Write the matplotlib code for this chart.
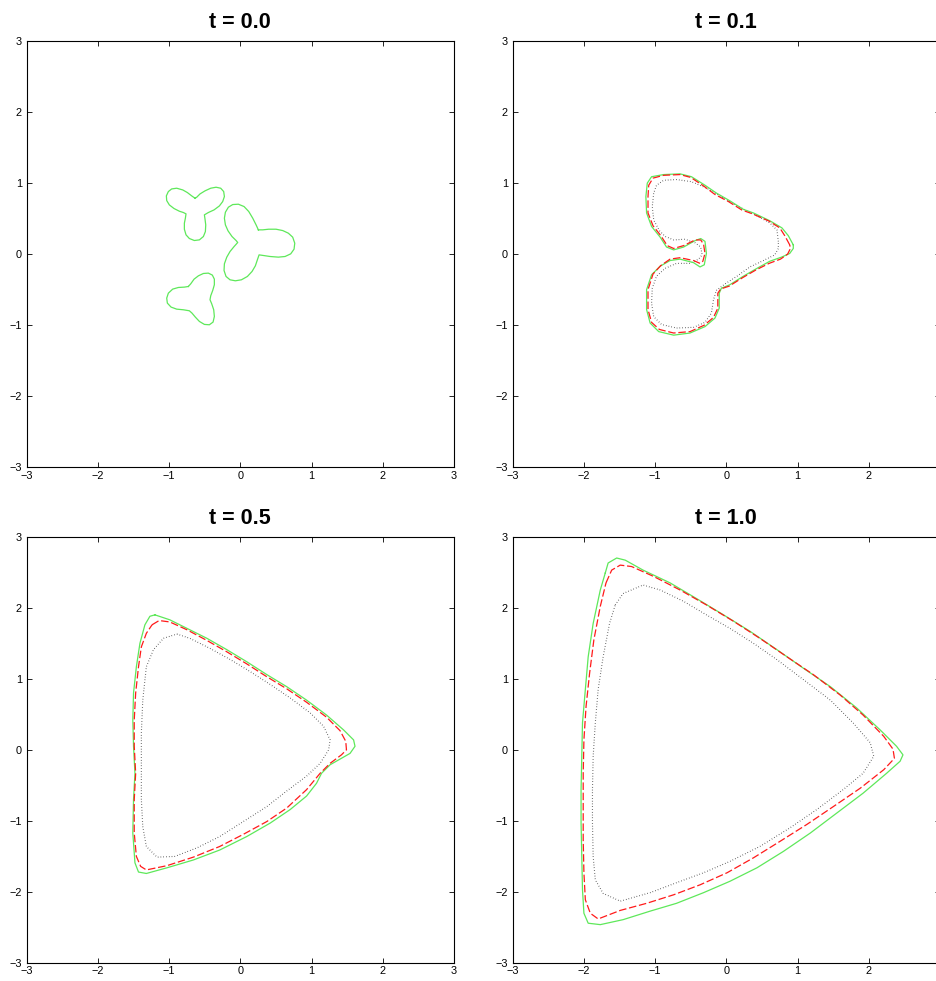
import numpy as np
import matplotlib
matplotlib.use("Agg")
import matplotlib.pyplot as plt

plt.rcParams["font.family"] = ["Liberation Sans", "DejaVu Sans"]

titles = ["t = 0.0", "t = 0.1", "t = 0.5", "t = 1.0"]
ticks = [-3, -2, -1, 0, 1, 2, 3]
tick_labels = ["\u22123", "\u22122", "\u22121", "0", "1", "2", "3"]

# ---- t = 0.0 : initial zero level set (three separate blobs) ----
t00_blob_a = [(-0.636, 0.787), (-0.683, 0.820), (-0.744, 0.867), (-0.809, 0.904), (-0.894, 0.928),
              (-0.964, 0.918), (-1.011, 0.881), (-1.039, 0.820), (-1.034, 0.754), (-0.997, 0.693),
              (-0.931, 0.642), (-0.856, 0.604), (-0.800, 0.586), (-0.763, 0.567), (-0.772, 0.506),
              (-0.786, 0.436), (-0.786, 0.351), (-0.763, 0.272), (-0.716, 0.220), (-0.646, 0.192),
              (-0.575, 0.201), (-0.519, 0.248), (-0.491, 0.318), (-0.486, 0.412), (-0.496, 0.492),
              (-0.505, 0.553), (-0.449, 0.586), (-0.369, 0.623), (-0.294, 0.679), (-0.248, 0.740),
              (-0.224, 0.811), (-0.234, 0.881), (-0.276, 0.928), (-0.341, 0.942), (-0.416, 0.928),
              (-0.496, 0.891), (-0.566, 0.848), (-0.613, 0.801)]
t00_blob_b = [(0.253, 0.342), (0.221, 0.412), (0.174, 0.506), (0.118, 0.600), (0.052, 0.670),
              (-0.028, 0.703), (-0.107, 0.698), (-0.168, 0.661), (-0.210, 0.590), (-0.224, 0.506),
              (-0.210, 0.412), (-0.173, 0.328), (-0.117, 0.248), (-0.060, 0.192), (-0.037, 0.164),
              (-0.088, 0.107), (-0.145, 0.037), (-0.191, -0.043), (-0.224, -0.136), (-0.229, -0.230),
              (-0.201, -0.314), (-0.145, -0.361), (-0.070, -0.375), (0.015, -0.361), (0.099, -0.314),
              (0.164, -0.244), (0.211, -0.164), (0.239, -0.080), (0.263, -0.010), (0.324, -0.019),
              (0.417, -0.033), (0.534, -0.042), (0.628, -0.033), (0.707, 0.004), (0.754, 0.070),
              (0.764, 0.154), (0.735, 0.239), (0.674, 0.295), (0.595, 0.332), (0.501, 0.351),
              (0.398, 0.351), (0.314, 0.342)]
t00_blob_c = [(-0.730, -0.455), (-0.697, -0.418), (-0.650, -0.352), (-0.589, -0.305), (-0.519, -0.272),
              (-0.449, -0.267), (-0.393, -0.295), (-0.365, -0.352), (-0.365, -0.431), (-0.388, -0.511),
              (-0.416, -0.586), (-0.426, -0.642), (-0.402, -0.699), (-0.374, -0.783), (-0.365, -0.877),
              (-0.383, -0.956), (-0.435, -0.994), (-0.505, -0.989), (-0.575, -0.947), (-0.632, -0.886),
              (-0.679, -0.830), (-0.716, -0.797), (-0.800, -0.783), (-0.894, -0.774), (-0.973, -0.745),
              (-1.025, -0.689), (-1.034, -0.619), (-1.011, -0.549), (-0.950, -0.492), (-0.870, -0.469),
              (-0.786, -0.464)]

# ---- t = 0.1 ----
t01_green = [(0.94, 0.13), (0.87, 0.26), (0.78, 0.37), (0.61, 0.47), (0.38, 0.58), (0.24, 0.63),
             (0.05, 0.75), (-0.14, 0.86), (-0.30, 0.97), (-0.49, 1.09), (-0.65, 1.13),
             (-0.88, 1.12), (-1.05, 1.09), (-1.11, 1.00), (-1.13, 0.81), (-1.12, 0.58),
             (-1.05, 0.39), (-0.93, 0.24), (-0.84, 0.10), (-0.74, 0.06), (-0.60, 0.10),
             (-0.44, 0.19), (-0.36, 0.22), (-0.30, 0.18), (-0.28, 0.01), (-0.31, -0.15),
             (-0.37, -0.18), (-0.46, -0.12), (-0.65, -0.07), (-0.79, -0.09), (-0.93, -0.17),
             (-1.05, -0.29), (-1.12, -0.50), (-1.12, -0.78), (-1.07, -0.97), (-0.95, -1.09),
             (-0.74, -1.14), (-0.51, -1.11), (-0.30, -1.02), (-0.16, -0.90), (-0.10, -0.76),
             (-0.10, -0.55), (-0.07, -0.48), (0.05, -0.43), (0.24, -0.31), (0.43, -0.20),
             (0.61, -0.10), (0.78, -0.04), (0.89, 0.01), (0.94, 0.08)]
t01_red = [(0.89, 0.13), (0.82, 0.26), (0.75, 0.37), (0.59, 0.47), (0.36, 0.57), (0.22, 0.62),
           (0.03, 0.74), (-0.16, 0.84), (-0.32, 0.96), (-0.50, 1.08), (-0.65, 1.12),
           (-0.88, 1.11), (-1.03, 1.07), (-1.09, 0.97), (-1.10, 0.81), (-1.10, 0.58),
           (-1.03, 0.40), (-0.92, 0.26), (-0.83, 0.12), (-0.74, 0.08), (-0.60, 0.12),
           (-0.44, 0.20), (-0.36, 0.20), (-0.32, 0.14), (-0.30, 0.01), (-0.33, -0.10),
           (-0.37, -0.13), (-0.46, -0.09), (-0.65, -0.05), (-0.79, -0.07), (-0.92, -0.16),
           (-1.03, -0.28), (-1.10, -0.50), (-1.10, -0.78), (-1.05, -0.96), (-0.94, -1.06),
           (-0.74, -1.11), (-0.51, -1.09), (-0.31, -1.00), (-0.18, -0.89), (-0.12, -0.76),
           (-0.12, -0.55), (-0.08, -0.49), (0.04, -0.45), (0.23, -0.33), (0.42, -0.22),
           (0.60, -0.13), (0.76, -0.07), (0.86, 0.00), (0.90, 0.08)]
t01_black = [(0.73, 0.18), (0.71, 0.34), (0.61, 0.44), (0.43, 0.54), (0.19, 0.66), (-0.04, 0.79),
             (-0.28, 0.93), (-0.49, 1.02), (-0.70, 1.05), (-0.88, 1.04), (-0.98, 0.97),
             (-1.02, 0.86), (-1.04, 0.67), (-1.02, 0.48), (-0.94, 0.33), (-0.86, 0.25),
             (-0.74, 0.20), (-0.58, 0.21), (-0.44, 0.16), (-0.36, 0.10), (-0.34, -0.01),
             (-0.39, -0.07), (-0.51, -0.13), (-0.70, -0.13), (-0.86, -0.20), (-0.98, -0.31),
             (-1.04, -0.48), (-1.05, -0.69), (-1.02, -0.88), (-0.91, -0.99), (-0.70, -1.04),
             (-0.46, -1.03), (-0.30, -0.96), (-0.21, -0.83), (-0.18, -0.64), (-0.14, -0.51),
             (-0.02, -0.42), (0.15, -0.31), (0.33, -0.18), (0.52, -0.09), (0.68, -0.01),
             (0.73, 0.08)]

# ---- t = 0.5 ----
t05_green = [(-1.20, 1.90), (-0.99, 1.83), (-0.75, 1.71), (-0.47, 1.57), (-0.19, 1.41),
             (0.09, 1.24), (0.37, 1.06), (0.65, 0.89), (0.93, 0.70), (1.21, 0.49), (1.45, 0.28),
             (1.59, 0.14), (1.61, 0.05), (1.54, -0.05), (1.40, -0.13), (1.26, -0.21),
             (1.14, -0.33), (1.07, -0.47), (0.93, -0.65), (0.70, -0.84), (0.42, -1.03),
             (0.09, -1.22), (-0.29, -1.41), (-0.66, -1.55), (-1.03, -1.66), (-1.32, -1.74),
             (-1.43, -1.72), (-1.48, -1.59), (-1.51, -1.17), (-1.50, -0.70), (-1.48, -0.33),
             (-1.50, 0.05), (-1.51, 0.42), (-1.50, 0.80), (-1.46, 1.17), (-1.41, 1.50),
             (-1.34, 1.76), (-1.27, 1.88)]
t05_red = [(-1.24, 1.76), (-1.14, 1.82), (-0.99, 1.80), (-0.75, 1.69), (-0.47, 1.54),
           (-0.19, 1.38), (0.09, 1.21), (0.37, 1.03), (0.65, 0.86), (0.93, 0.67), (1.21, 0.46),
           (1.40, 0.27), (1.48, 0.12), (1.49, 0.00), (1.42, -0.07), (1.26, -0.19),
           (1.12, -0.33), (0.93, -0.56), (0.65, -0.82), (0.37, -1.01), (0.04, -1.19),
           (-0.29, -1.36), (-0.66, -1.51), (-1.03, -1.63), (-1.32, -1.69), (-1.40, -1.64),
           (-1.46, -1.50), (-1.49, -1.17), (-1.49, -0.70), (-1.47, -0.33), (-1.49, 0.05),
           (-1.49, 0.42), (-1.47, 0.80), (-1.43, 1.17), (-1.39, 1.45), (-1.32, 1.64)]
t05_black = [(-0.89, 1.63), (-0.71, 1.57), (-0.43, 1.43), (-0.14, 1.27), (0.14, 1.10),
             (0.42, 0.92), (0.70, 0.73), (0.98, 0.52), (1.17, 0.33), (1.26, 0.14), (1.24, 0.00),
             (1.12, -0.19), (0.93, -0.37), (0.65, -0.58), (0.37, -0.80), (0.04, -1.01),
             (-0.29, -1.22), (-0.61, -1.38), (-0.92, -1.50), (-1.17, -1.51), (-1.32, -1.36),
             (-1.37, -1.08), (-1.39, -0.70), (-1.39, -0.23), (-1.39, 0.24), (-1.37, 0.70),
             (-1.32, 1.17), (-1.22, 1.41), (-1.08, 1.57)]

# ---- t = 1.0 ----
t10_green = [(-1.70, 2.49), (-1.66, 2.63), (-1.54, 2.70), (-1.42, 2.67), (-1.17, 2.53),
             (-0.79, 2.35), (-0.42, 2.13), (-0.04, 1.90), (0.33, 1.67), (0.71, 1.41),
             (1.08, 1.15), (1.46, 0.89), (1.83, 0.59), (2.16, 0.28), (2.39, 0.05),
             (2.48, -0.07), (2.44, -0.16), (2.25, -0.33), (1.92, -0.61), (1.55, -0.89),
             (1.18, -1.17), (0.80, -1.43), (0.43, -1.66), (0.05, -1.85), (-0.32, -2.01),
             (-0.70, -2.16), (-1.07, -2.27), (-1.45, -2.39), (-1.77, -2.46), (-1.94, -2.44),
             (-2.00, -2.30), (-2.02, -1.97), (-2.03, -1.50), (-2.04, -1.03), (-2.04, -0.56),
             (-2.03, -0.09), (-2.02, 0.38), (-1.98, 0.85), (-1.94, 1.31), (-1.87, 1.78),
             (-1.77, 2.25)]
t10_red = [(-1.69, 2.35), (-1.61, 2.53), (-1.49, 2.60), (-1.33, 2.58), (-1.02, 2.44),
           (-0.65, 2.25), (-0.28, 2.04), (0.10, 1.81), (0.47, 1.57), (0.85, 1.31), (1.22, 1.06),
           (1.60, 0.77), (1.92, 0.49), (2.21, 0.19), (2.34, 0.01), (2.36, -0.12), (2.21, -0.28),
           (1.88, -0.54), (1.50, -0.80), (1.13, -1.05), (0.75, -1.29), (0.38, -1.52),
           (0.01, -1.73), (-0.37, -1.90), (-0.74, -2.04), (-1.12, -2.16), (-1.49, -2.26),
           (-1.80, -2.38), (-1.91, -2.30), (-1.98, -2.11), (-2.00, -1.73), (-2.01, -1.26),
           (-2.01, -0.80), (-2.01, -0.33), (-2.00, 0.14), (-1.97, 0.61), (-1.92, 1.08),
           (-1.86, 1.55), (-1.77, 2.02)]
t10_black = [(-1.56, 2.04), (-1.45, 2.20), (-1.17, 2.32), (-0.93, 2.25), (-0.60, 2.09),
             (-0.28, 1.90), (0.05, 1.71), (0.38, 1.50), (0.71, 1.27), (1.08, 0.99), (1.46, 0.70),
             (1.78, 0.38), (2.02, 0.10), (2.07, -0.09), (1.92, -0.33), (1.64, -0.56),
             (1.27, -0.84), (0.89, -1.10), (0.47, -1.36), (0.05, -1.57), (-0.32, -1.73),
             (-0.70, -1.87), (-1.07, -2.01), (-1.49, -2.13), (-1.73, -2.02), (-1.84, -1.83),
             (-1.87, -1.50), (-1.88, -1.03), (-1.88, -0.56), (-1.87, -0.09), (-1.84, 0.38),
             (-1.80, 0.85), (-1.73, 1.31), (-1.64, 1.78)]

panels = [
    {"green": [t00_blob_a, t00_blob_b, t00_blob_c], "red": [], "black": []},
    {"green": [t01_green], "red": [t01_red], "black": [t01_black]},
    {"green": [t05_green], "red": [t05_red], "black": [t05_black]},
    {"green": [t10_green], "red": [t10_red], "black": [t10_black]},
]

GREEN = "#5ee85a"
RED = "#ff1a1a"
BLACK = "#111111"

fig = plt.figure(figsize=(9.36, 9.81), dpi=100)
W, H = 936.0, 981.0
size_w, size_h = 427.3, 426.3
lefts = [26.7, 512.7, 26.7, 512.7]
tops = [41.0, 41.0, 536.7, 536.7]


def closed(pts):
    arr = np.asarray(pts + [pts[0]], dtype=float)
    return arr[:, 0], arr[:, 1]


for i in range(4):
    ax = fig.add_axes([lefts[i] / W, 1 - (tops[i] + size_h) / H, size_w / W, size_h / H])
    for pts in panels[i]["black"]:
        x, y = closed(pts)
        ax.plot(x, y, color=BLACK, lw=0.8, linestyle=(0, (0.5, 2.0)))
    for pts in panels[i]["green"]:
        x, y = closed(pts)
        ax.plot(x, y, color=GREEN, lw=0.9, solid_joinstyle="round")
    for pts in panels[i]["red"]:
        x, y = closed(pts)
        ax.plot(x, y, color=RED, lw=0.9, linestyle=(0, (6, 2.2)))
    ax.set_xlim(-3, 3)
    ax.set_ylim(-3, 3)
    xl = list(tick_labels)
    if i % 2 == 1:
        # the right-hand panels run past the figure edge; their last x label is off-canvas
        xl[-1] = ""
    ax.set_xticks(ticks, xl)
    ax.set_yticks(ticks, tick_labels)
    ax.tick_params(direction="in", top=True, right=True, length=3.6, width=0.6,
                   labelsize=7.8)
    ax.tick_params(axis="x", pad=2.5)
    ax.tick_params(axis="y", pad=3.5)
    for s in ax.spines.values():
        s.set_linewidth(0.8)
    ax.set_title(titles[i], fontsize=15.5, fontweight="bold", pad=9)

fig.savefig("out.png", dpi=100)
